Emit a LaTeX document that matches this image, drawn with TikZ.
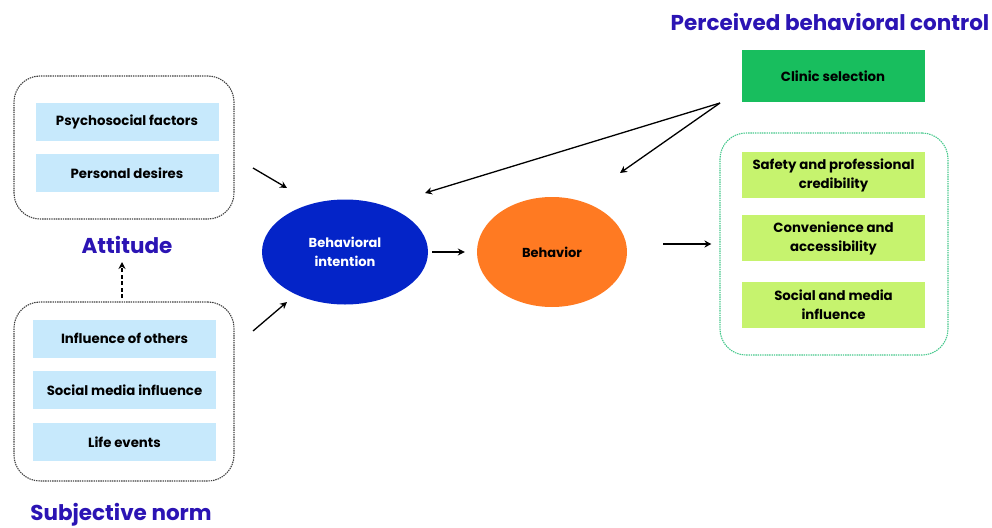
\documentclass[tikz,border=0pt]{standalone}
\usepackage{fontspec}
\setmainfont{Poppins}
\usetikzlibrary{calc,arrows.meta,shapes.geometric}

\definecolor{titleblue}{RGB}{43,20,180}
\definecolor{itemblue}{RGB}{199,233,252}
\definecolor{itemlime}{RGB}{198,243,110}
\definecolor{clinicgreen}{RGB}{24,190,94}
\definecolor{bordergreen}{RGB}{70,200,140}
\definecolor{intblue}{RGB}{4,36,200}
\definecolor{behorange}{RGB}{255,122,34}

\tikzset{
  grp/.style={draw=black!75, line width=1.1pt, dash pattern=on 1.4pt off 0.9pt,
    rounded corners=26pt, minimum width=220pt},
  item/.style={fill=itemblue, minimum width=183pt, minimum height=38pt,
    font=\bfseries\fontsize{13.3}{19}\selectfont, align=center},
  limeitem/.style={item, fill=itemlime, minimum height=46pt},
  title/.style={text=titleblue, font=\bfseries\fontsize{21.5}{24}\selectfont},
  oval/.style={ellipse, minimum width=166pt, minimum height=105pt, align=center,
    font=\bfseries\fontsize{13}{19}\selectfont},
  arr/.style={-{Stealth[length=7pt,width=7pt]}, line width=1.3pt},
}

\begin{document}
\begin{tikzpicture}[x=1pt,y=-1pt]
   \useasboundingbox (0,0) rectangle (992,527);

   % attitude
   \node[grp, minimum height=143pt] (attbox) at (124,147.5) {};
   \node[item] (psy) at (127,121.5) {Psychosocial factors};
   \node[item] (des) at (127,173) {Personal desires};
   \node[title] (att) at (127,245) {Attitude};

   % subjective norm
   \node[grp, minimum height=179pt] (normbox) at (124,391.5) {};
   \node[item] (oth) at (124.5,338.5) {Influence of others};
   \node[item] (soc) at (124.5,390) {Social media influence};
   \node[item] (life) at (124.5,442) {Life events};
   \node[title] (norm) at (121,515) {Subjective norm};

   % intention and behavior
   \node[oval, fill=intblue, text=white] (bi) at (345,252) {Behavioral\\intention};
   \node[oval, fill=behorange, minimum width=150pt, minimum height=110pt] (beh) at (552,252) {Behavior};

   % perceived behavioral control
   \node[title] (pbc) at (830,22) {Perceived behavioral control};
   \node[item, fill=clinicgreen, minimum height=52pt] (clin) at (833,76) {Clinic selection};
   \node[grp, draw=bordergreen, minimum width=228pt, minimum height=222pt] (selbox) at (834,244) {};
   \node[limeitem] (safe) at (833.5,175) {Safety and professional\\credibility};
   \node[limeitem] (conv) at (833.5,238) {Convenience and\\accessibility};
   \node[limeitem] (media) at (833.5,305) {Social and media\\influence};

   % arrow ends
   \coordinate (d1) at (122,298);
   \coordinate (d2) at (122,262);
   \coordinate (a1) at (253,168);
   \coordinate (a2) at (287,188);
   \coordinate (n1) at (253,331);
   \coordinate (n2) at (287,302);
   \coordinate (fork) at (720,103);
   \coordinate (f1) at (425,193);
   \coordinate (f2) at (620,173);

   \draw[arr, dash pattern=on 4pt off 2.5pt, line width=1.1pt] (d1) -- (d2);
   \draw[arr] (a1) -- (a2);
   \draw[arr] (n1) -- (n2);
   \draw[arr, shorten <=4pt, shorten >=12pt] (bi.east) -- (beh.west);
   \draw[arr, shorten <=36pt, shorten >=8pt] (beh.east |- selbox.west) -- (selbox.west);
   \draw[arr] (fork) -- (f1);
   \draw[arr] (fork) -- (f2);
\end{tikzpicture}
\end{document}
